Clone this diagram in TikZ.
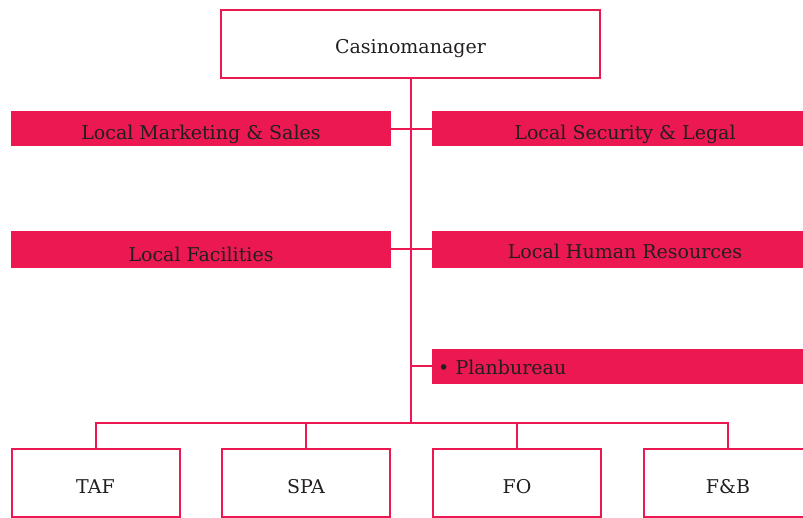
\documentclass[tikz,border=0pt]{standalone}
\usepackage{fontspec}
\setmainfont{DejaVu Serif}
\definecolor{pinkc}{RGB}{236,24,82}
\definecolor{txt}{RGB}{35,31,32}
\begin{document}
\begin{tikzpicture}[x=1pt,y=-1pt,
  font=\fontsize{19}{23}\selectfont, text=txt,
  line/.style={draw=pinkc, line width=2pt},
  openbox/.style={draw=pinkc, line width=2pt, fill=white, minimum width=379pt, minimum height=68pt, inner sep=0pt, text height=20pt, text depth=0pt},
  fillbox/.style={fill=pinkc, draw=none, minimum width=380pt, minimum height=35pt, inner sep=0pt, text height=22pt, text depth=0pt},
  unitbox/.style={draw=pinkc, line width=2pt, fill=white, minimum width=168pt, minimum height=68pt, inner sep=0pt, text height=20pt, text depth=0pt}]
\useasboundingbox (0,0) rectangle (803,518);
\clip (0,0) rectangle (803,518);
\node[openbox] (top) at (410.5,44) {Casinomanager};
\node[fillbox] (lms) at (201,129) {Local Marketing \& Sales};
\node[fillbox, minimum width=386pt] (lsl) at (625,129) {Local Security \& Legal};
\node[fillbox, minimum height=37pt, text height=25pt] (lf) at (201,249.5) {Local Facilities};
\node[fillbox, minimum width=386pt, minimum height=37pt, text height=19pt] (lhr) at (625,249.5) {Local Human Resources};
\node[fillbox, minimum width=386pt, text width=374pt, inner xsep=6pt, align=left, text height=17pt] (plan) at (625,366.5) {• Planbureau};
\node[unitbox] (taf) at (95.5,483) {TAF};
\node[unitbox] (spa) at (306,483) {SPA};
\node[unitbox] (fo) at (517,483) {FO};
\node[unitbox] (fb) at (728,483) {F\&B};
\coordinate (busy) at (0,423);
\draw[line] (top.south) -- (top.south |- busy);
\draw[line] (lms.east) -- (lsl.west);
\draw[line] (lf.east) -- (lhr.west);
\draw[line] (plan.west) -- (plan.west -| top.south);
\draw[line] (taf.north) -- (taf.north |- busy) -- (fb.north |- busy) -- (fb.north);
\draw[line] (spa.north) -- (spa.north |- busy);
\draw[line] (fo.north) -- (fo.north |- busy);
\end{tikzpicture}
\end{document}
